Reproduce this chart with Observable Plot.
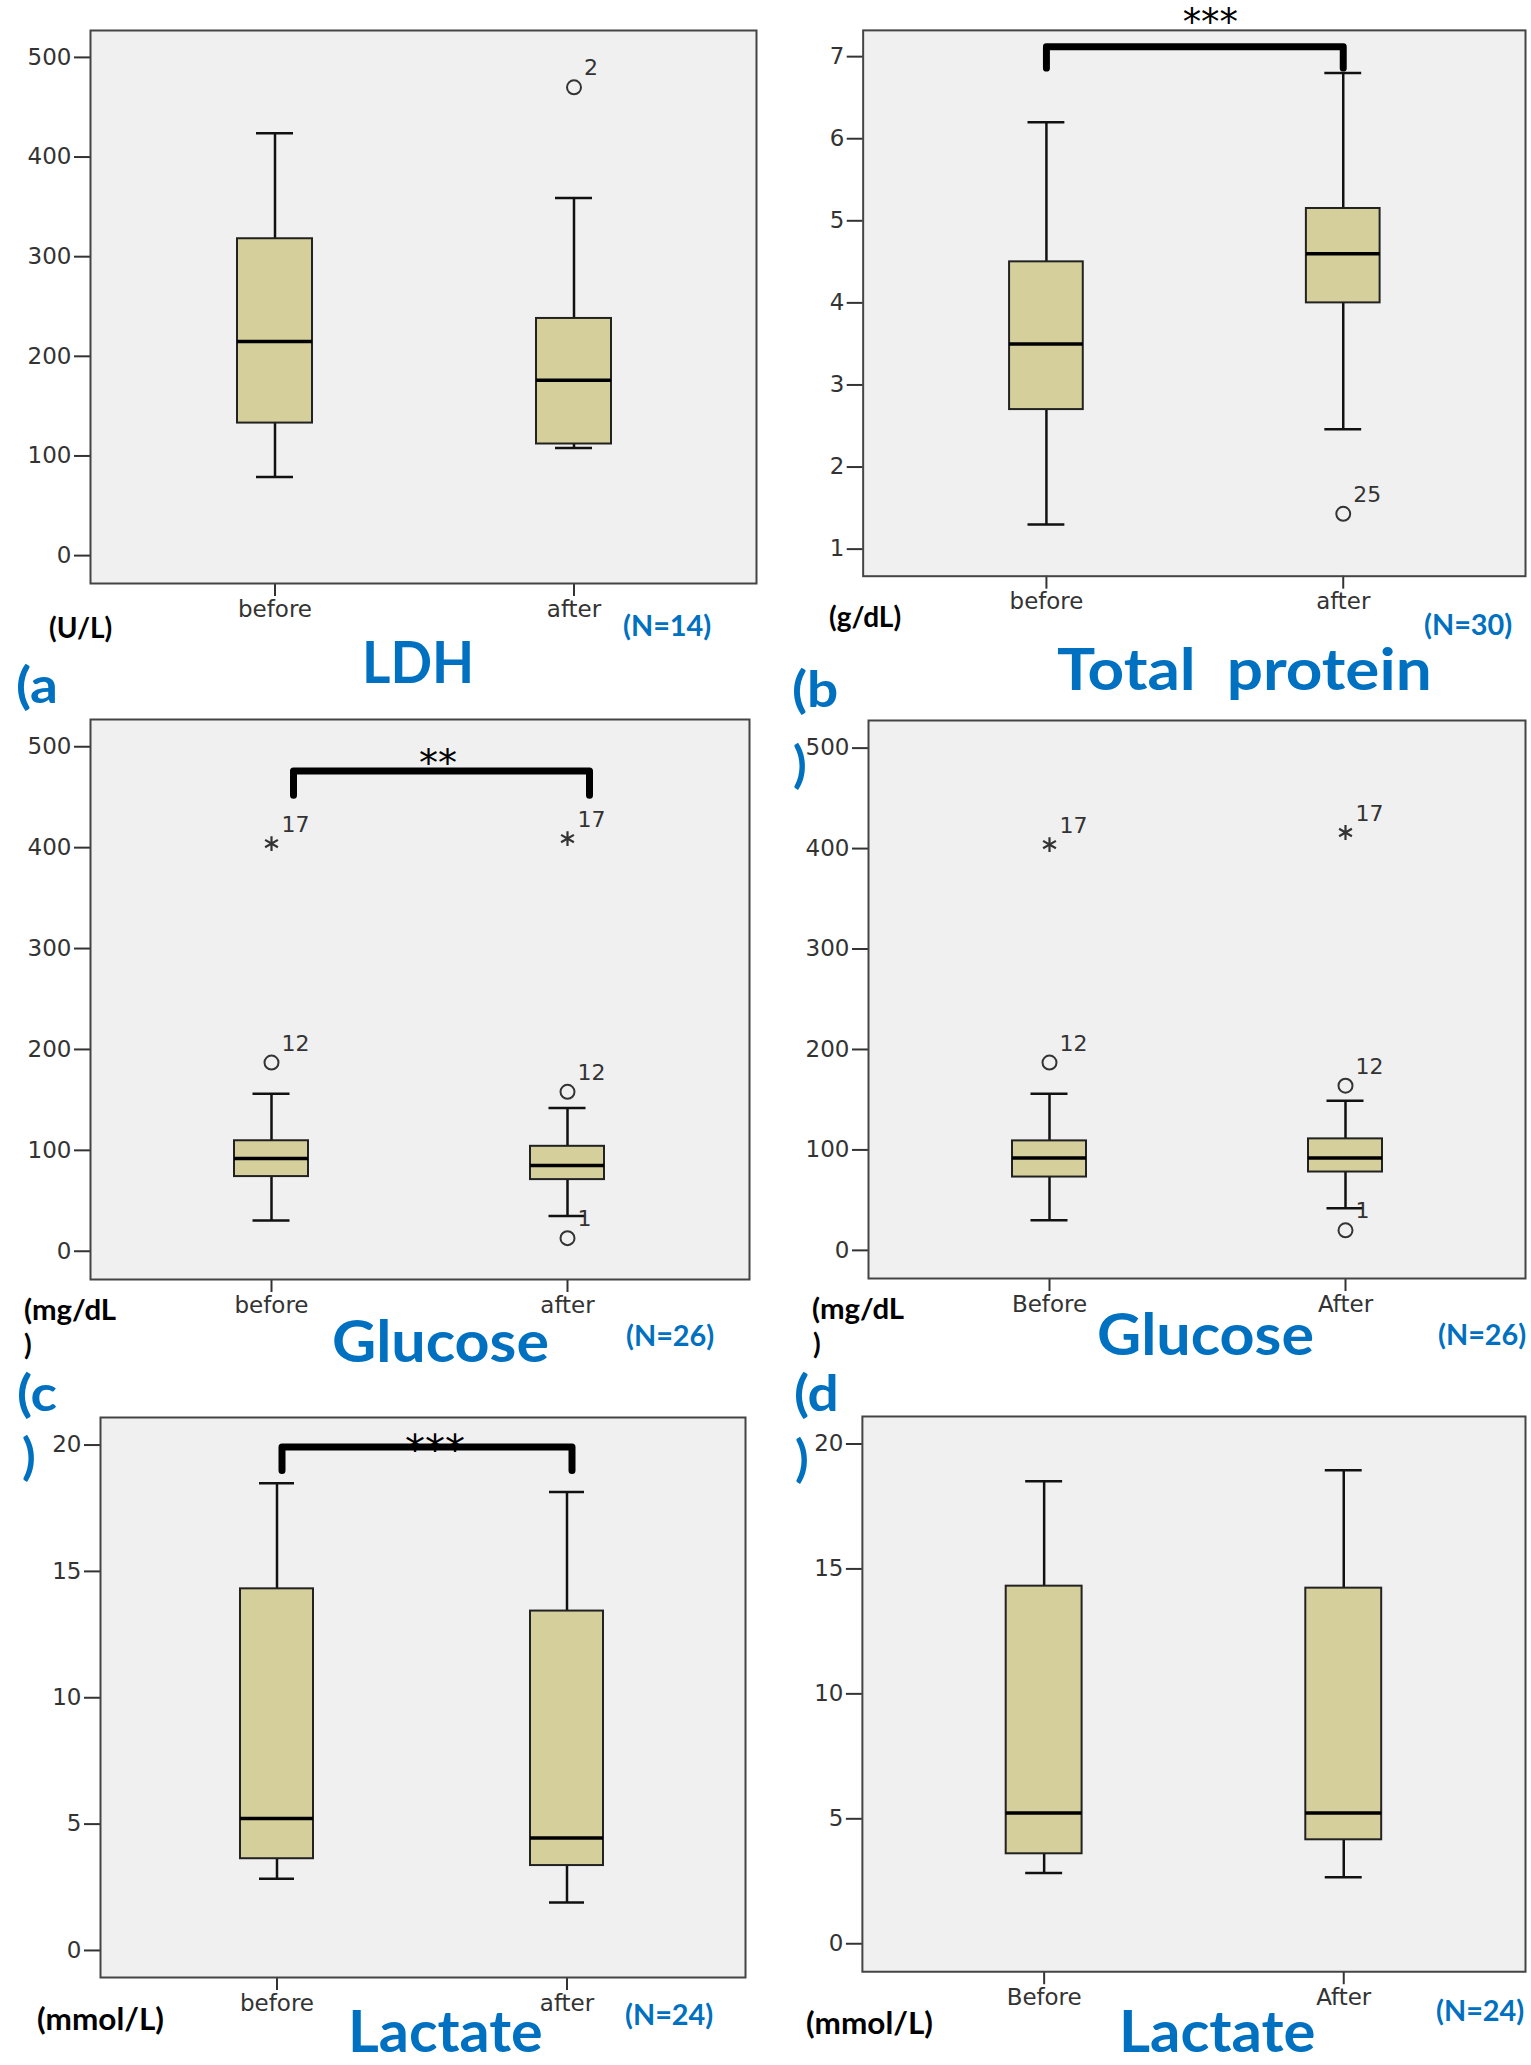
<!DOCTYPE html>
<html><head><meta charset="utf-8">
<script src="https://cdn.jsdelivr.net/npm/d3@7"></script>
<script src="https://cdn.jsdelivr.net/npm/@observablehq/plot@0.6"></script>
<style>
html,body{margin:0;padding:0;background:#fff;}
#root{position:relative;width:1531px;height:2065px;overflow:hidden;background:#fff;}
.panel{position:absolute;}
.lbl{position:absolute;white-space:pre;font-family:Lato,"Noto Sans",sans-serif;font-weight:700;line-height:0.85;transform-origin:0 0;}
</style></head><body><div id="root"></div>
<script>
// ---------------- DATA ----------------
const groupsLower = ["before", "after"];
const groupsUpper = ["Before", "After"];

// (a) LDH (U/L)
const ldhLow = [79, 108];
const ldhQ1 = [133, 112];
const ldhMedian = [215, 176];
const ldhQ3 = [318, 238];
const ldhHigh = [424, 359];
const ldhOutliers = [[1, 470, "2", "circle"]];

// (b) Total protein (g/dL)
const tpLow = [1.3, 2.46];
const tpQ1 = [2.7, 4.0];
const tpMedian = [3.5, 4.6];
const tpQ3 = [4.5, 5.15];
const tpHigh = [6.2, 6.8];
const tpOutliers = [[1, 1.43, "25", "circle"]];
const tpBracket = [6.86, 7.12];

// (c) Glucose (mg/dL)
const gluCLow = [30.5, 35];
const gluCQ1 = [74, 71];
const gluCMedian = [92, 85];
const gluCQ3 = [109.5, 104];
const gluCHigh = [156, 142];
const gluCOutliers = [[0, 187, "12", "circle"], [0, 404, "17", "star"], [1, 158, "12", "circle"], [1, 13, "1", "circle"], [1, 409, "17", "star"]];
const gluCBracket = [452, 476];

// (d) Glucose (mg/dL)
const gluDLow = [30, 42];
const gluDQ1 = [73, 78];
const gluDMedian = [92, 92];
const gluDQ3 = [109, 111];
const gluDHigh = [156, 149];
const gluDOutliers = [[0, 187, "12", "circle"], [0, 404, "17", "star"], [1, 164, "12", "circle"], [1, 20, "1", "circle"], [1, 416, "17", "star"]];

// (e) Lactate (mmol/L)
const lacELow = [2.84, 1.9];
const lacEQ1 = [3.63, 3.36];
const lacEMedian = [5.22, 4.45];
const lacEQ3 = [14.31, 13.43];
const lacEHigh = [18.49, 18.14];
const lacEBracket = [18.99, 19.92];

// (f) Lactate (mmol/L)
const lacFLow = [2.83, 2.66];
const lacFQ1 = [3.6, 4.16];
const lacFMedian = [5.23, 5.23];
const lacFQ3 = [14.31, 14.23];
const lacFHigh = [18.51, 18.95];

const ticks500 = [0, 100, 200, 300, 400, 500];
const ticks7 = [1, 2, 3, 4, 5, 6, 7];
const ticks20 = [0, 5, 10, 15, 20];

// ---------------- LAYOUT ----------------
// sigBase: baseline of the significance stars, relative to the frame top
const panels = [
  {frame:[90,30,756,583], centers:[274,573], boxWidth:75, capWidth:37, yDomain:[-28,527], yTicks:ticks500, groups:groupsLower,
   low:ldhLow,q1:ldhQ1,median:ldhMedian,q3:ldhQ3,high:ldhHigh,outliers:ldhOutliers, marginTop:8},
  {frame:[863,30,1528,578], centers:[1047,1345], boxWidth:74, capWidth:37, yDomain:[0.67,7.32], yTicks:ticks7, groups:groupsLower,
   low:tpLow,q1:tpQ1,median:tpMedian,q3:tpQ3,high:tpHigh,outliers:tpOutliers, marginTop:30,
   bracket:tpBracket, bracketDx:0, sig:"***", sigSize:37, sigSpacing:9, sigDx:16, sigBase:5},
  {frame:[90,719,749,1279], centers:[271,567], boxWidth:74, capWidth:37, yDomain:[-28,527], yTicks:ticks500, groups:groupsLower,
   low:gluCLow,q1:gluCQ1,median:gluCMedian,q3:gluCQ3,high:gluCHigh,outliers:gluCOutliers, marginTop:8,
   bracket:gluCBracket, bracketDx:22, sig:"**", sigSize:38, sigSpacing:9, sigDx:18, sigBase:56},
  {frame:[868,720,1525,1278], centers:[1049,1345], boxWidth:74, capWidth:37, yDomain:[-28,527.5], yTicks:ticks500, groups:groupsUpper,
   low:gluDLow,q1:gluDQ1,median:gluDMedian,q3:gluDQ3,high:gluDHigh,outliers:gluDOutliers, marginTop:8},
  {frame:[100,1417,745,1977], centers:[276.5,567], boxWidth:73, capWidth:35, yDomain:[-1.07,21.09], yTicks:ticks20, groups:groupsLower,
   low:lacELow,q1:lacEQ1,median:lacEMedian,q3:lacEQ3,high:lacEHigh,outliers:[], marginTop:8,
   bracket:lacEBracket, bracketDx:5, sig:"***", sigSize:40, sigSpacing:7, sigDx:12, sigBase:46},
  {frame:[862,1416,1526,1972], centers:[1044,1344], boxWidth:76, capWidth:37, yDomain:[-1.12,21.1], yTicks:ticks20, groups:groupsUpper,
   low:lacFLow,q1:lacFQ1,median:lacFMedian,q3:lacFQ3,high:lacFHigh,outliers:[], marginTop:8}
];

// text, left x, baseline y, font size, colour, horizontal stretch
const blue = "#0070c0";
const labels = [
  ["(U/L)",49,639,28,"#000",1],["(N=14)",623,637,28,blue,1.03],["LDH",362,683,57,blue,0.96],["(a",16,704,50,blue,1.1],
  ["(g/dL)",829,628,28,"#000",1],["(N=30)",1424,636,28,blue,1.03],["Total  protein",1057,690,57,blue,1.12],["(b",792,708,50,blue,1.1],[")",793,783,50,blue,1],
  ["(mg/dL",24,1321,28,"#000",1.05],[")",24,1356,28,"#000",1],["Glucose",332,1362,57,blue,1.07],["(N=26)",626,1347,28,blue,1.03],["(c",17,1412,50,blue,1.1],[")",22,1475,50,blue,1],
  ["(mg/dL",812,1320,28,"#000",1.05],[")",813,1355,28,"#000",1],["Glucose",1097,1355,57,blue,1.07],["(N=26)",1438,1346,28,blue,1.03],["(d",794,1412,50,blue,1.1],[")",795,1477,50,blue,1],
  ["(mmol/L)",37,2030,30,"#000",1.05],["(N=24)",625,2026,28,blue,1.03],["Lactate",348,2052,57,blue,1.04],
  ["(mmol/L)",806,2034,30,"#000",1.05],["(N=24)",1436,2022,28,blue,1.03],["Lactate",1119,2052,57,blue,1.05]
];

const root = document.getElementById("root");
const ML = 88, MR = 6, MB = 52;
const ink = "#111";

function panelPlot(p) {
  const [L, T, R, B] = p.frame;
  const W = R - L, H = B - T;
  const step = p.centers[1] - p.centers[0];
  const pi = 1 - p.boxWidth / step;
  const po = (W / step - 2 + pi) / 2;
  const align = (p.centers[0] - L - p.boxWidth / 2) / (W - step - p.boxWidth);
  const stats = p.groups.map((g, i) => ({g, lo: p.low[i], q1: p.q1[i], med: p.median[i], q3: p.q3[i], hi: p.high[i]}));
  const outs = p.outliers.map(([gi, v, label, shape]) => ({g: p.groups[gi], v, label, shape}));
  const capInset = (p.boxWidth - p.capWidth) / 2;
  const marks = [
    Plot.frame({fill: "#f0f0f0"}),
    Plot.ruleX(stats, {x: "g", y1: "q3", y2: "hi", stroke: ink, strokeWidth: 2.5}),
    Plot.ruleX(stats, {x: "g", y1: "lo", y2: "q1", stroke: ink, strokeWidth: 2.5}),
    Plot.tickY(stats, {x: "g", y: "hi", insetLeft: capInset, insetRight: capInset, stroke: ink, strokeWidth: 2.5}),
    Plot.tickY(stats, {x: "g", y: "lo", insetLeft: capInset, insetRight: capInset, stroke: ink, strokeWidth: 2.5}),
    Plot.barY(stats, {x: "g", y1: "q1", y2: "q3", fill: "#d5d09b", stroke: "#222", strokeWidth: 2}),
    Plot.tickY(stats, {x: "g", y: "med", stroke: "#000", strokeWidth: 3.5}),
    Plot.dot(outs.filter(d => d.shape === "circle"), {x: "g", y: "v", r: 7, stroke: "#333", strokeWidth: 2, fill: "none"}),
    Plot.dot(outs.filter(d => d.shape === "star"), {x: "g", y: "v", r: 7, symbol: "asterisk", stroke: "#333", strokeWidth: 2.2}),
    Plot.text(outs, {x: "g", y: "v", text: "label", textAnchor: "start", dx: 10, dy: -19, fontSize: 22, fill: "#333"}),
    Plot.axisY({ticks: p.yTicks, tickFormat: d3.format("d"), tickSize: 16, tickPadding: 3, stroke: "#333", strokeWidth: 2, fill: "#333", label: null, fontSize: 23}),
    Plot.axisX({tickSize: 13, tickPadding: 4, stroke: "#333", strokeWidth: 2, fill: "#333", label: null, fontSize: 23})
  ];
  if (p.sig) {
    marks.push(Plot.text([p.sig], {frameAnchor: "top", text: d => d, dx: p.sigDx, dy: p.sigBase - 0.32 * p.sigSize,
      fontSize: p.sigSize, fill: "#000", lineAnchor: "middle", fontFamily: "DejaVu Sans", letterSpacing: p.sigSpacing}));
  }
  if (p.bracket) {
    const [g0, g1] = p.groups;
    const br = [{g: g0, y: p.bracket[0]}, {g: g0, y: p.bracket[1]}, {g: g1, y: p.bracket[1]}, {g: g1, y: p.bracket[0]}];
    marks.push(Plot.line(br, {x: "g", y: "y", stroke: "#000", strokeWidth: 7, strokeLinejoin: "round", dx: p.bracketDx}));
  }
  marks.push(Plot.frame({stroke: "#444", strokeWidth: 2}));
  const svg = Plot.plot({
    width: W + ML + MR, height: H + p.marginTop + MB,
    marginLeft: ML, marginRight: MR, marginTop: p.marginTop, marginBottom: MB,
    x: {type: "band", domain: p.groups, paddingInner: pi, paddingOuter: po, align, label: null},
    y: {domain: p.yDomain, label: null},
    marks,
    style: {fontFamily: "DejaVu Sans", fontSize: "23px", color: "#333", background: "transparent", overflow: "visible"}
  });
  const wrap = document.createElement("div");
  wrap.className = "panel";
  wrap.style.left = (L - ML) + "px";
  wrap.style.top = (T - p.marginTop) + "px";
  wrap.appendChild(svg);
  root.appendChild(wrap);
}

panels.forEach(panelPlot);

for (const [text, x, baseline, size, color, sx] of labels) {
  const d = document.createElement("div");
  d.className = "lbl";
  d.textContent = text;
  d.style.left = x + "px";
  d.style.top = (baseline - 0.812 * size) + "px";
  d.style.fontSize = size + "px";
  d.style.color = color;
  if (sx !== 1) d.style.transform = `scaleX(${sx})`;
  root.appendChild(d);
}
</script></body></html>
